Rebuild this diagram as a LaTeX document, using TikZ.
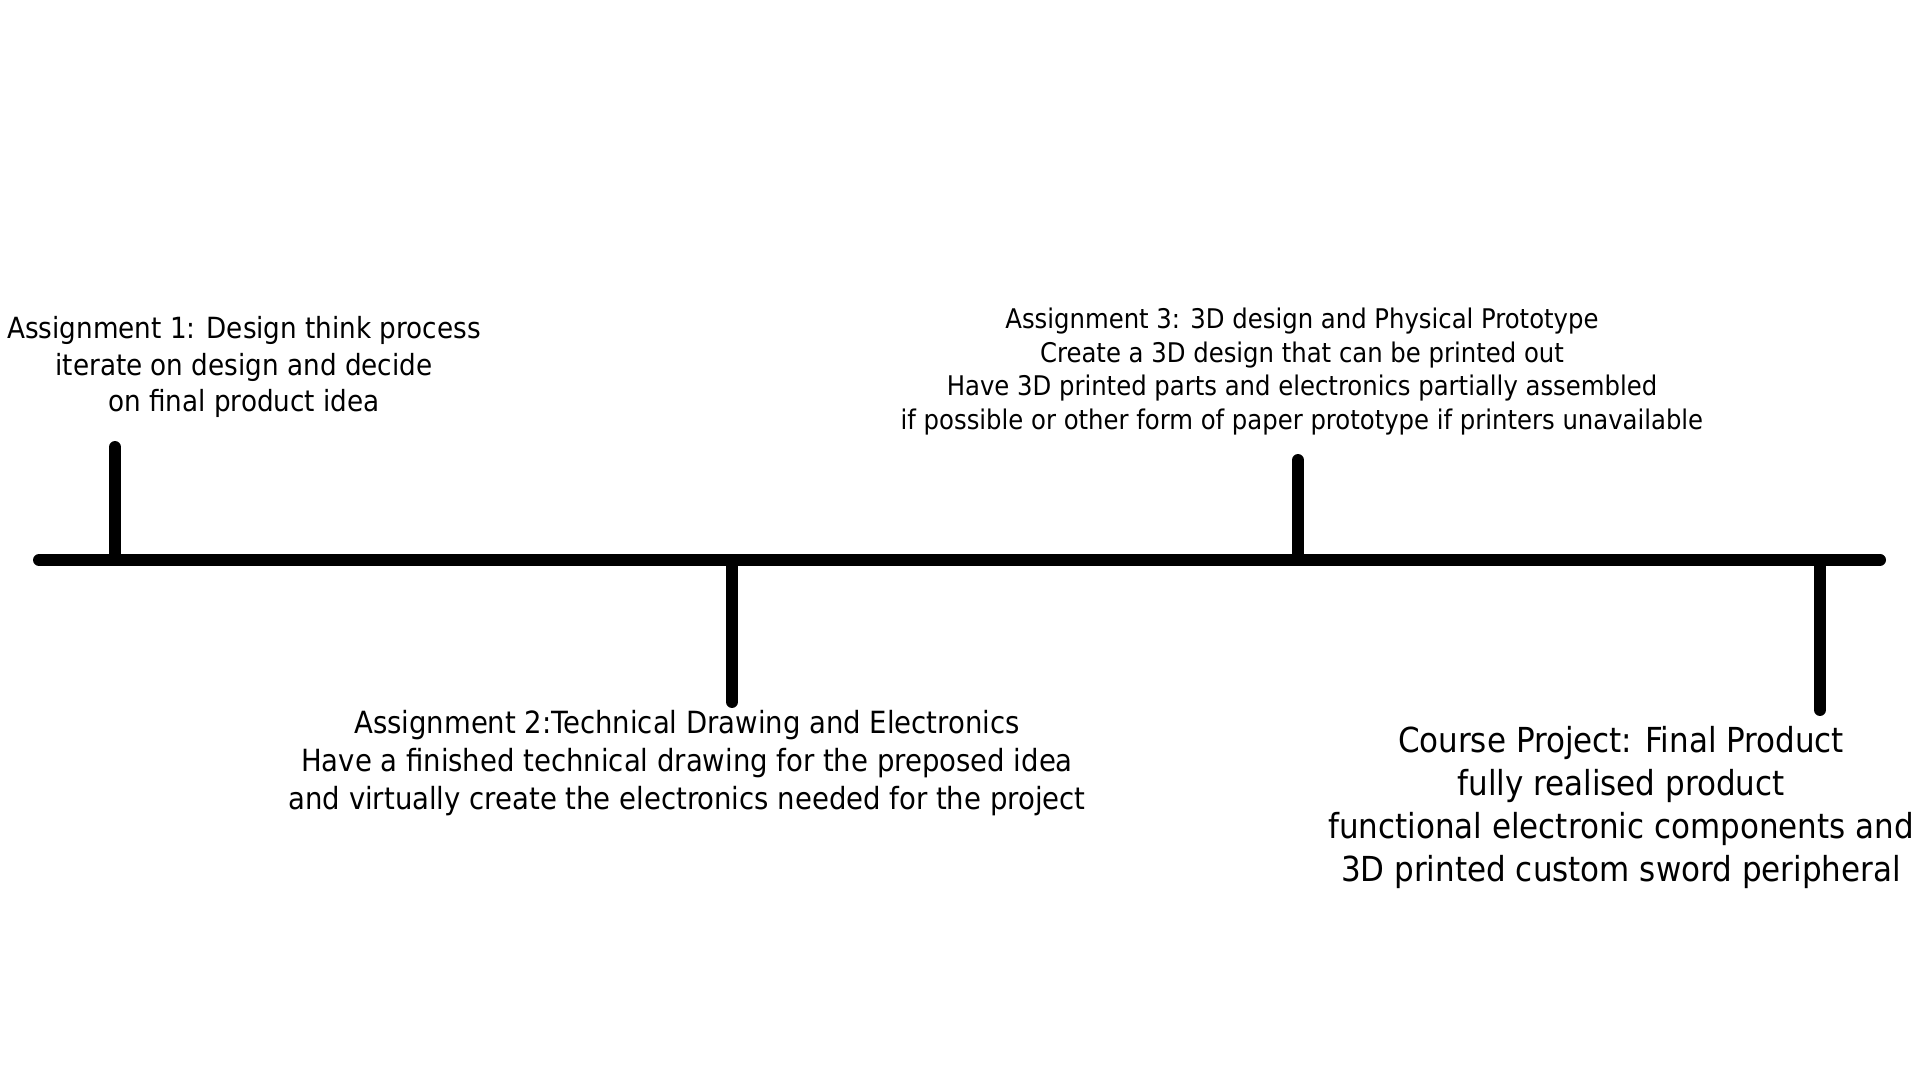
\documentclass[tikz,border=0pt]{standalone}
\usepackage{fontspec}
\setmainfont{DejaVu Sans Condensed}
\usepackage{tikz}

\begin{document}
\begin{tikzpicture}[x=1cm,y=1cm,
  bar/.style={line width=3.4pt, line cap=round},
  milestone/.style={align=center, inner sep=0pt}]
\useasboundingbox (0,0) rectangle (19.2,10.8);
% timeline
\coordinate (start) at (0.39,5.2);
\coordinate (finish) at (18.8,5.2);
\draw[bar] (start) -- (finish);
% ticks
\coordinate (t1) at (1.15,5.2);
\coordinate (t1end) at (1.15,6.33);
\coordinate (t2) at (7.32,5.2);
\coordinate (t2end) at (7.32,3.78);
\coordinate (t3) at (12.98,5.2);
\coordinate (t3end) at (12.98,6.20);
\coordinate (t4) at (18.20,5.2);
\coordinate (t4end) at (18.20,3.70);
\draw[bar] (t1) -- (t1end);
\draw[bar] (t2) -- (t2end);
\draw[bar] (t3) -- (t3end);
\draw[bar] (t4) -- (t4end);
% labels
\node[milestone, font=\fontsize{8.3}{10.4}\selectfont] (a1) at (2.44,7.13)
  {Assignment 1: Design think process\\iterate on design and decide\\on final product idea};
\node[milestone, font=\fontsize{8.7}{10.8}\selectfont] (a2) at (6.87,3.17)
  {Assignment 2:Technical Drawing and Electronics\\Have a finished technical drawing for the preposed idea\\and virtually create the electronics needed for the project};
\node[milestone, font=\fontsize{7.7}{9.5}\selectfont] (a3) at (13.02,7.085)
  {Assignment 3: 3D design and Physical Prototype\\Create a 3D design that can be printed out\\Have 3D printed parts and electronics partially assembled\\if possible or other form of paper prototype if printers unavailable};
\node[milestone, font=\fontsize{9.8}{12.2}\selectfont] (cp) at (16.21,2.725)
  {Course Project: Final Product\\fully realised product\\functional electronic components and\\3D printed custom sword peripheral};
\end{tikzpicture}
\end{document}
